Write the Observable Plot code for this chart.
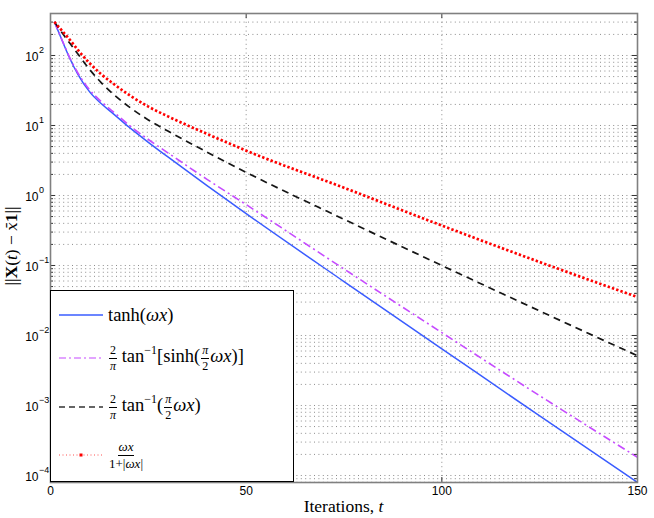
<!DOCTYPE html>
<html><head><meta charset="utf-8">
<script src="https://cdn.jsdelivr.net/npm/d3@7"></script>
<script src="https://cdn.jsdelivr.net/npm/@observablehq/plot@0.6"></script>
<style>
body{margin:0;background:#fff;}
#wrap{position:relative;width:654px;height:518px;}
.legend{position:absolute;left:50px;top:290px;width:244px;height:192px;box-sizing:border-box;background:#fff;border:1px solid #000;font-family:"Liberation Serif","DejaVu Serif",serif;font-size:18.5px;color:#000;}
.item{position:absolute;left:8px;height:30px;display:flex;align-items:center;white-space:nowrap;}
.item svg{margin-right:5px;flex:none;}
.frac{display:inline-flex;flex-direction:column;align-items:center;font-size:12px;line-height:1.05;vertical-align:middle;margin:0 1px;}
.frac .num{border-bottom:1px solid #000;padding:0 1px 1px;}
.frac .den{padding-top:1px;}
sup{font-size:12px;line-height:0;position:relative;top:-1px;}
i{font-style:italic;}
</style>
</head><body>
<div id="wrap"></div>
<script>
// iterations at which values were read
const t = [1, 3, 5, 7, 10, 13, 16, 20, 25, 30, 40, 50, 75, 100, 125, 150];
// ||X(t) - x̄1|| for each activation function
const tanhErr  = [302, 162, 89.1, 53.7, 30.2, 20.4, 14.8, 9.55, 5.75, 3.55, 1.38, 0.550, 0.0589, 0.00646, 0.000708, 0.0000794];
const sinhErr  = [302, 164, 91.2, 56.2, 32.4, 21.9, 15.8, 10.2, 6.31, 4.07, 1.70, 0.741, 0.0891, 0.0110, 0.00138, 0.000182];
const atanErr  = [302, 209, 148, 105, 63.1, 40.7, 28.2, 18.6, 12.0, 8.32, 4.17, 2.14, 0.457, 0.100, 0.0224, 0.00513];
const ratioErr = [302, 224, 166, 120, 77.6, 53.7, 39.8, 27.5, 18.6, 13.5, 7.59, 4.37, 1.29, 0.372, 0.112, 0.0355];
// axes
const xTicks = [0, 50, 100, 150];
const xGrid = [50, 100];
const yExponents = [2, 1, 0, -1, -2, -3, -4];
const yDomain = [7.94e-5, 398];

const W = 654, H = 518, mL = 50, mR = 17, mT = 13, mB = 36;
const fw = W - mL - mR, fh = H - mT - mB;

const yMajor = yExponents.map(e => Math.pow(10, e));
const yMinor = [];
for (let k = -5; k <= 2; k++) for (let d = 2; d <= 9; d++) {
  const v = d * Math.pow(10, k);
  if (v > yDomain[0] && v < yDomain[1]) yMinor.push(v);
}
const yGrid = yMajor.concat(yMinor);
const expAll = yExponents.map(e => ({v: Math.pow(10, e), s: e < 0 ? "\u2212" + Math.abs(e) : String(e)}));

const series = [
  {vals: tanhErr,  stroke: "#3a5cff", dash: null,           width: 1.5},
  {vals: sinhErr,  stroke: "#c64bff", dash: "8,3.5,2,3.5",  width: 1.6},
  {vals: atanErr,  stroke: "#151515", dash: "7,5",          width: 1.7},
  {vals: ratioErr, stroke: "#ff0000", dash: "2.4,2.1",      width: 2.7}
];
const lineMarks = series.map(s => Plot.lineY(t.map((ti, i) => ({t: ti, v: s.vals[i]})), {
  x: "t", y: "v", stroke: s.stroke, strokeWidth: s.width,
  strokeDasharray: s.dash, strokeLinecap: "butt", curve: "monotone-x"
}));

const chart = Plot.plot({
  width: W, height: H,
  marginLeft: mL, marginRight: mR, marginTop: mT, marginBottom: mB,
  x: {domain: [0, 150]},
  y: {type: "log", domain: yDomain},
  style: {fontFamily: "'Liberation Sans', Arial, sans-serif", fontSize: "12px", background: "#fff", color: "#000"},
  marks: [
    Plot.ruleY(yGrid, {stroke: "#707070", strokeWidth: 0.8, strokeDasharray: "1,3.4"}),
    Plot.ruleX(xGrid, {stroke: "#707070", strokeWidth: 0.8, strokeDasharray: "1,3.4"}),
    ...lineMarks,
    Plot.tickY(yMajor, {stroke: "#333", insetRight: fw - 5}),
    Plot.tickY(yMajor, {stroke: "#333", insetLeft: fw - 5}),
    Plot.tickY(yMinor, {stroke: "#333", insetRight: fw - 3}),
    Plot.tickY(yMinor, {stroke: "#333", insetLeft: fw - 3}),
    Plot.tickX(xTicks, {stroke: "#333", insetTop: fh - 5}),
    Plot.tickX(xTicks, {stroke: "#333", insetBottom: fh - 5}),
    Plot.frame({stroke: "#808080", strokeWidth: 1.6}),
    Plot.axisX(xTicks, {tickSize: 0, tickPadding: 4, label: null, fontSize: 12}),
    Plot.axisY({ticks: [], label: null}),
    Plot.text(expAll, {y: "v", text: () => "10", frameAnchor: "left", textAnchor: "end", dx: -12, dy: 2, fontSize: 12}),
    Plot.text(expAll, {y: "v", text: "s", frameAnchor: "left", textAnchor: "start", dx: -11.5, dy: -5, fontSize: 9})
  ]
});

const wrap = document.getElementById("wrap");
wrap.appendChild(chart);

const svg = d3.select(chart);
// x-axis title
const xt = svg.append("text")
  .attr("x", mL + fw / 2).attr("y", 512)
  .attr("text-anchor", "middle")
  .attr("font-family", "'Liberation Serif','DejaVu Serif',serif")
  .attr("font-size", 17.5);
xt.append("tspan").text("Iterations, ");
xt.append("tspan").attr("font-style", "italic").text("t");
// y-axis title
const yt = svg.append("text")
  .attr("transform", "translate(17,246) rotate(-90)")
  .attr("text-anchor", "middle")
  .attr("font-family", "'Liberation Serif','DejaVu Serif',serif")
  .attr("font-size", 17.5);
yt.append("tspan").text("||");
yt.append("tspan").attr("font-weight", "bold").text("X");
yt.append("tspan").text("(");
yt.append("tspan").attr("font-style", "italic").text("t");
yt.append("tspan").text(") \u2212 ");
yt.append("tspan").attr("font-style", "italic").attr("font-family", "'DejaVu Serif',serif").attr("font-size", 15).text("x\u0304");
yt.append("tspan").attr("font-weight", "bold").text("1");
yt.append("tspan").text("||");

// legend
const legendItems = [
  {top: 9,  sample: '<line x1="0" y1="5" x2="44" y2="5" stroke="#3a5cff" stroke-width="1.5"/>',
   html: 'tanh(<i>ωx</i>)'},
  {top: 52, sample: '<line x1="0" y1="5" x2="44" y2="5" stroke="#c64bff" stroke-width="1.2" stroke-dasharray="7,3,2,3"/>',
   html: '<span class="frac"><span class="num">2</span><span class="den"><i>π</i></span></span>&thinsp;tan<sup>−1</sup>[sinh(<span class="frac"><span class="num"><i>π</i></span><span class="den">2</span></span><i>ωx</i>)]'},
  {top: 101, sample: '<line x1="0" y1="5" x2="44" y2="5" stroke="#333" stroke-width="1.5" stroke-dasharray="6,4"/>',
   html: '<span class="frac"><span class="num">2</span><span class="den"><i>π</i></span></span>&thinsp;tan<sup>−1</sup>(<span class="frac"><span class="num"><i>π</i></span><span class="den">2</span></span><i>ωx</i>)'},
  {top: 149, sample: '<line x1="0" y1="5" x2="44" y2="5" stroke="#ff5050" stroke-width="1" stroke-dasharray="1,2.5"/><rect x="20.5" y="3.5" width="3" height="3" fill="#ff0000"/>',
   html: '<span class="frac" style="font-size:13px"><span class="num"><i>ωx</i></span><span class="den">1+|<i>ωx</i>|</span></span>'}
];
const leg = document.createElement("div");
leg.className = "legend";
leg.innerHTML = legendItems.map(d =>
  `<div class="item" style="top:${d.top}px"><svg width="44" height="10">${d.sample}</svg><span>${d.html}</span></div>`
).join("");
wrap.appendChild(leg);
</script>
</body></html>
